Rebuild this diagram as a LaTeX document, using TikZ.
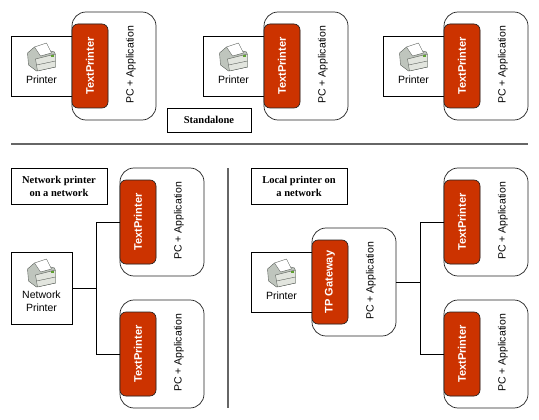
\documentclass[tikz,border=0pt]{standalone}
\usepackage{fontspec}
\setmainfont{Liberation Sans}
\newfontfamily\captionserif{Liberation Serif}
\usepackage{xcolor}
\usetikzlibrary{
  calc,
  positioning,
  shadows
}
\definecolor{tpRed}{HTML}{CC3300}
\definecolor{tpLine}{HTML}{222222}
\definecolor{tpRule}{HTML}{666666}
\definecolor{iconBody}{HTML}{E2E5DE}
\definecolor{iconDark}{HTML}{BFC5BD}
\definecolor{iconEdge}{HTML}{5A5F5A}
\definecolor{iconLed}{HTML}{5FA030}

\begin{document}
\begin{tikzpicture}[
  x=1pt,
  y=-1pt,
  font=\fontsize{10.5}{13}\selectfont,
  node distance=0pt,
  pcbox/.style={
    draw=tpLine,
    rounded corners=14pt,
    line width=0.7pt,
    fill=white,
    minimum width=84pt,
    minimum height=108pt,
    inner sep=0pt,
    outer sep=0pt
  },
  tpbox/.style={
    draw=tpLine,
    fill=tpRed,
    rounded corners=6pt,
    line width=0.6pt,
    minimum width=36pt,
    minimum height=84pt,
    inner sep=0pt,
    outer sep=0pt,
    general shadow={yshift=1.2pt, fill=black!45}
  },
  pclabel/.style={rotate=90, inner sep=0pt},
  tplabel/.style={
    rotate=90,
    inner sep=0pt,
    text=white,
    font=\fontsize{11}{13}\selectfont\bfseries
  },
  prnbox/.style={
    draw=black,
    line width=0.7pt,
    minimum width=61pt,
    minimum height=60pt,
    inner sep=0pt,
    outer sep=0pt
  },
  prnlabel/.style={align=center, inner sep=0pt},
  capbox/.style={
    draw=black,
    line width=0.7pt,
    fill=white,
    align=center,
    inner sep=0pt,
    outer sep=0pt,
    font=\fontsize{10.5}{13}\captionserif\bfseries\selectfont
  },
  wire/.style={draw=black, line width=0.7pt},
  divider/.style={draw=tpRule, line width=1.2pt},
  printericon/.pic={
    \draw[fill=iconDark, draw=iconEdge, line width=0.4pt, line join=round]
      (-14,-4) -- (-7,-10) -- (13,-5) -- (14,-2) -- (14,10) -- (-5,14) -- (-13,8) -- cycle;
    \draw[fill=iconBody, draw=iconEdge, line width=0.4pt, line join=round]
      (-6,2) -- (14,-3) -- (14,10) -- (-4,14) -- cycle;
    \draw[fill=white, draw=iconEdge, line width=0.4pt, line join=round]
      (-7,-10) -- (5,-14) -- (10,-4) -- (-1,-1) -- cycle;
    \draw[iconEdge, line width=0.4pt] (-5,8) -- (14,4);
    \fill[iconLed] (9,-1.6) rectangle (12,-0.2);
  }
]

\useasboundingbox (0,0) rectangle (539,420);

% standalone row
\node[pcbox] (pcA) at (114,66) {};
\node[pclabel] (pcAtxt) at (131,65) {PC + Application};
\node[prnbox, left=of pcA] (prnA) {};
\node[tpbox] (tpA) at (90,66) {};
\node[tplabel] (tpAtxt) at (tpA) {TextPrinter};

\node[pcbox] (pcB) at (306,66) {};
\node[pclabel] (pcBtxt) at (323,65) {PC + Application};
\node[prnbox, left=of pcB] (prnB) {};
\node[tpbox] (tpB) at (282,66) {};
\node[tplabel] (tpBtxt) at (tpB) {TextPrinter};

\node[pcbox] (pcC) at (486,66) {};
\node[pclabel] (pcCtxt) at (503,65) {PC + Application};
\node[prnbox, left=of pcC] (prnC) {};
\node[tpbox] (tpC) at (462,66) {};
\node[tplabel] (tpCtxt) at (tpC) {TextPrinter};

\foreach \prn in {prnA,prnB,prnC}{
  \pic at ($(\prn.north)+(0,21)$) {printericon};
  \node[prnlabel] (\prn txt) at ($(\prn.north)+(0,44)$) {Printer};
}

\node[capbox, minimum width=84pt, minimum height=24pt] (capA) at (209,120) {Standalone};

\coordinate (ruleL) at (11,144);
\coordinate (ruleR) at (528,144);
\draw[divider] (ruleL) -- (ruleR);
\coordinate (sepT) at (228,168);
\coordinate (sepB) at (228,408);
\draw[divider] (sepT) -- (sepB);

% network printer
\node[capbox, minimum width=96pt, minimum height=36pt] (capB) at (59,186) {Network printer\\on a network};
\node[prnbox, minimum height=72pt] (prnD) at (41.5,288) {};
\pic at ($(prnD.north)+(0,21)$) {printericon};
\node[prnlabel] (prnDtxt) at ($(prnD.north)+(0,49)$) {Network\\Printer};

\node[pcbox] (pcD) at (162,222) {};
\node[pclabel] (pcDtxt) at (179,221) {PC + Application};
\node[tpbox] (tpD) at (138,222) {};
\node[tplabel] (tpDtxt) at (tpD) {TextPrinter};

\node[pcbox] (pcE) at (162,354) {};
\node[pclabel] (pcEtxt) at (179,353) {PC + Application};
\node[tpbox] (tpE) at (138,354) {};
\node[tplabel] (tpEtxt) at (tpE) {TextPrinter};

\coordinate (hubA) at (96,288);
\draw[wire] (prnD.east) -- (hubA);
\draw[wire] (pcD.west) -| (hubA);
\draw[wire] (pcE.west) -| (hubA);

% local printer
\node[capbox, minimum width=96pt, minimum height=36pt] (capC) at (299,186) {Local printer on\\a network};
\node[pcbox] (pcF) at (354,282) {};
\node[pclabel] (pcFtxt) at (371,281) {PC + Application};
\node[prnbox, left=of pcF] (prnF) {};
\pic at ($(prnF.north)+(0,21)$) {printericon};
\node[prnlabel] (prnFtxt) at ($(prnF.north)+(0,44)$) {Printer};
\node[tpbox] (tpF) at (330,282) {};
\node[tplabel] (tpFtxt) at (tpF) {TP Gateway};

\node[pcbox] (pcG) at (486,222) {};
\node[pclabel] (pcGtxt) at (503,221) {PC + Application};
\node[tpbox] (tpG) at (462,222) {};
\node[tplabel] (tpGtxt) at (tpG) {TextPrinter};

\node[pcbox] (pcH) at (486,354) {};
\node[pclabel] (pcHtxt) at (503,353) {PC + Application};
\node[tpbox] (tpH) at (462,354) {};
\node[tplabel] (tpHtxt) at (tpH) {TextPrinter};

\coordinate (hubB) at (420,282);
\draw[wire] (pcF.east) -- (hubB);
\draw[wire] (pcG.west) -| (hubB);
\draw[wire] (pcH.west) -| (hubB);

\end{tikzpicture}
\end{document}
